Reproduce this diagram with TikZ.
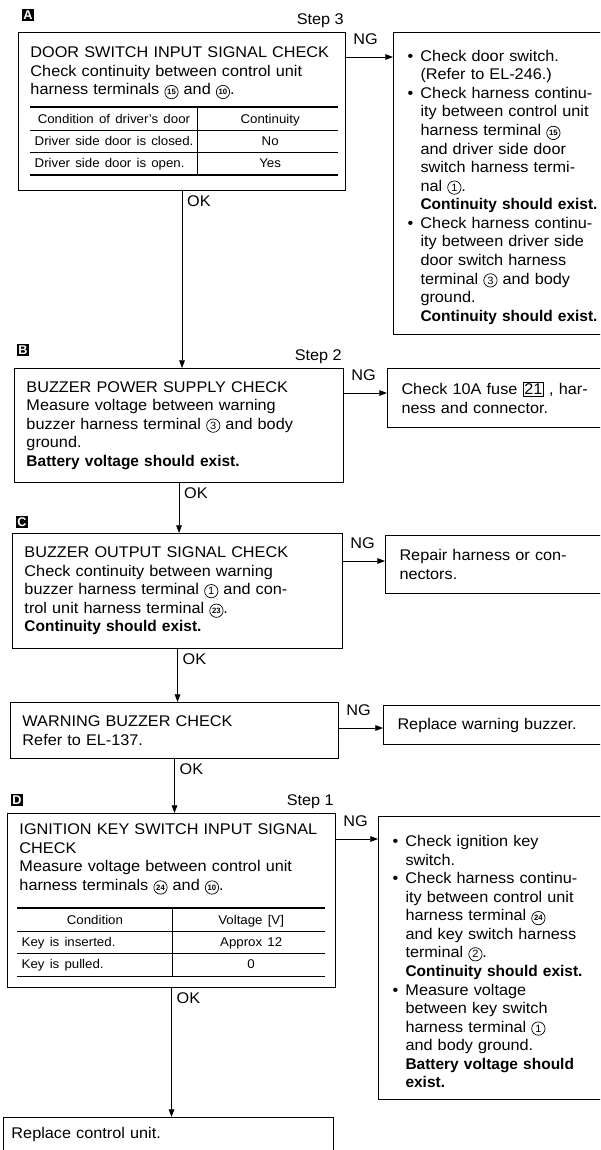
\documentclass[tikz,border=0pt]{standalone}
\usepackage{fontspec}
\setmainfont{Liberation Sans}[FakeStretch=1.05, BoldFeatures={FakeStretch=1.0}]
\usepackage{array}
\usepackage{tikz}
\usetikzlibrary{arrows.meta, positioning}
\tikzset{
    chk/.style={draw, line width=0.7pt, anchor=north west, inner xsep=0.3cm, inner ysep=0pt, align=left},
    fix/.style={draw, line width=0.7pt, anchor=north west, inner xsep=0.35cm, inner ysep=0pt, text width=5.6cm, align=left},
    tag/.style={fill=black, text=white, font=\bfseries\fontsize{9}{9}\selectfont, minimum size=0.29cm, inner sep=0pt},
    fc/.style={>={Triangle[length=5.5pt, width=4pt]}, line width=0.6pt, font=\fontsize{11}{13.2}\selectfont}
}
\newcommand\cterm[1]{\tikz[baseline=(t.base)]\node[draw, circle, line width=0.5pt, text width=, inner sep=0pt, minimum size=9.5pt, font=\fontsize{7.5}{7.5}\selectfont] (t) {#1};}
\newcommand\ctermx[1]{\tikz[baseline=(t.base)]\node[draw, circle, line width=0.5pt, text width=, inner sep=0pt, minimum size=9.5pt, font=\bfseries\fontsize{5.5}{5.5}\selectfont] (t) {#1};}
\newcommand\fuse[1]{{\setlength\fboxsep{0.8pt}\fbox{#1}}}
\newcommand\bul{\par\noindent\hangindent=0.325cm\hangafter=1\makebox[0.325cm][l]{\textbullet}}
\newlength\lcw
\newcommand\tabfont{\fontsize{9}{10}\selectfont\renewcommand\arraystretch{1.55}\setlength\tabcolsep{3pt}}
\newcommand\thkrule{\noalign{\hrule height 1.3pt}}
\newcommand\lc[1]{\makebox[\lcw][l]{#1}}
\newcommand\lcc[1]{\makebox[\lcw][c]{#1}}

\begin{document}
\begin{tikzpicture}[fc, x=0.025cm, y=-0.025cm]
        \useasboundingbox (0,0) rectangle (600,1150);
        \clip (0,0) rectangle (600,1150);

        \node[tag] (tagA) at (28,15) {A};
        \node[tag] (tagB) at (23,350) {B};
        \node[tag] (tagC) at (22,522) {C};
        \node[tag] (tagD) at (17,800) {D};

        \node[chk, text width=7.575cm, minimum height=3.95cm] (boxA) at (18,32) {DOOR SWITCH INPUT SIGNAL CHECK\\
            Check continuity between control unit\\
            harness terminals \ctermx{15} and \ctermx{10}.\\[4pt]
            {\tabfont\setlength\lcw{3.96cm}\begin{tabular}{@{\hspace{3pt}}l|>{\centering\arraybackslash}p{3.4cm}@{}}
                \thkrule
                \lcc{Condition of driver's door} & Continuity\\ \hline
                \lc{Driver side door is closed.} & No\\ \hline
                \lc{Driver side door is open.} & Yes\\
                \thkrule
            \end{tabular}}};
        \node[chk, text width=7.625cm, minimum height=2.85cm] (boxB) at (14,368) {BUZZER POWER SUPPLY CHECK\\
            Measure voltage between warning\\
            buzzer harness terminal \cterm{3} and body\\
            ground.\\
            \textbf{Battery voltage should exist.}};
        \node[chk, text width=7.65cm, minimum height=2.875cm] (boxC) at (12,533) {BUZZER OUTPUT SIGNAL CHECK\\
            Check continuity between warning\\
            buzzer harness terminal \cterm{1} and con-\\
            trol unit harness terminal \ctermx{23}.\\
            \textbf{Continuity should exist.}};
        \node[chk, text width=7.6cm, minimum height=1.4cm] (boxW) at (10,702) {WARNING BUZZER CHECK\\
            Refer to EL-137.};
        \node[chk, text width=7.6cm, minimum height=4.35cm] (boxD) at (7,813) {IGNITION KEY SWITCH INPUT SIGNAL\\
            CHECK\\
            Measure voltage between control unit\\
            harness terminals \ctermx{24} and \ctermx{10}.\\[8pt]
            {\tabfont\setlength\lcw{3.66cm}\hspace*{-0.05cm}\begin{tabular}{@{\hspace{3pt}}l|>{\centering\arraybackslash}p{3.7cm}@{}}
                \thkrule
                \lcc{Condition} & Voltage [V]\\ \hline
                \lc{Key is inserted.} & Approx 12\\ \hline
                \lc{Key is pulled.} & 0\\
                \thkrule
            \end{tabular}}};
        \node[chk, text width=7.85cm, inner xsep=0.2cm, inner ysep=0.25cm, text depth=1cm] (boxR) at (3,1117) {Replace control unit.};

        \node[fix, minimum height=7.55cm] (fixA) at (393,32) {\bul Check door switch.\newline
            (Refer to EL-246.)
            \bul Check harness continu-\newline
            ity between control unit\newline
            harness terminal \ctermx{15}\newline
            and driver side door\newline
            switch harness termi-\newline
            nal \cterm{1}.\newline
            \textbf{Continuity should exist.}
            \bul Check harness continu-\newline
            ity between driver side\newline
            door switch harness\newline
            terminal \cterm{3} and body\newline
            ground.\newline
            \textbf{Continuity should exist.}\par};
        \node[fix, minimum height=1.475cm] (fixB) at (387,368) {Check 10A fuse \fuse{21} , har-\\
            ness and connector.};
        \node[fix, minimum height=1.45cm] (fixC) at (385,535) {Repair harness or con-\\
            nectors.};
        \node[fix, minimum height=0.975cm] (fixW) at (383,705) {Replace warning buzzer.};
        \node[fix, minimum height=7.075cm] (fixD) at (378,816) {\bul Check ignition key\newline
            switch.
            \bul Check harness continu-\newline
            ity between control unit\newline
            harness terminal \ctermx{24}\newline
            and key switch harness\newline
            terminal \cterm{2}.\newline
            \textbf{Continuity should exist.}
            \bul Measure voltage\newline
            between key switch\newline
            harness terminal \cterm{1}\newline
            and body ground.\newline
            \textbf{Battery voltage should}\newline
            \textbf{exist.}\par};

        \node[anchor=base east] (stepA) at ([shift={(2pt,5.5pt)}]boxA.north east) {Step 3};
        \node[anchor=base east] (stepB) at ([shift={(2pt,5.5pt)}]boxB.north east) {Step 2};
        \node[anchor=base east] (stepD) at ([shift={(2pt,5.5pt)}]boxD.north east) {Step 1};

        \coordinate (ngA) at (0,57);
        \coordinate (ngB) at (0,393);
        \coordinate (ngC) at (0,561);
        \coordinate (ngW) at (0,728);
        \coordinate (ngD) at (0,839);

        \draw[->] (boxA.east |- ngA) -- (fixA.west |- ngA) node[pos=0, above right, xshift=1.5pt, yshift=5pt] (ngtA) {NG};
        \draw[->] (boxB.east |- ngB) -- (fixB.west |- ngB) node[pos=0, above right, xshift=1.5pt, yshift=5pt] (ngtB) {NG};
        \draw[->] (boxC.east |- ngC) -- (fixC.west |- ngC) node[pos=0, above right, xshift=1.5pt, yshift=5pt] (ngtC) {NG};
        \draw[->] (boxW.east |- ngW) -- (fixW.west |- ngW) node[pos=0, above right, xshift=1.5pt, yshift=5pt] (ngtW) {NG};
        \draw[->] (boxD.east |- ngD) -- (fixD.west |- ngD) node[pos=0, above right, xshift=1.5pt, yshift=5pt] (ngtD) {NG};

        \draw[->] (boxA.south) -- (boxA.south |- boxB.north) node[pos=0, below right] (okA) {OK};
        \draw[->] (boxB.south) -- (boxB.south |- boxC.north) node[pos=0, below right] (okB) {OK};
        \draw[->] (boxC.south) -- (boxC.south |- boxW.north) node[pos=0, below right] (okC) {OK};
        \draw[->] (boxW.south) -- (boxW.south |- boxD.north) node[pos=0, below right] (okW) {OK};
        \draw[->] (boxD.south) -- (boxD.south |- boxR.north) node[pos=0, below right] (okD) {OK};
    \end{tikzpicture}
\end{document}
